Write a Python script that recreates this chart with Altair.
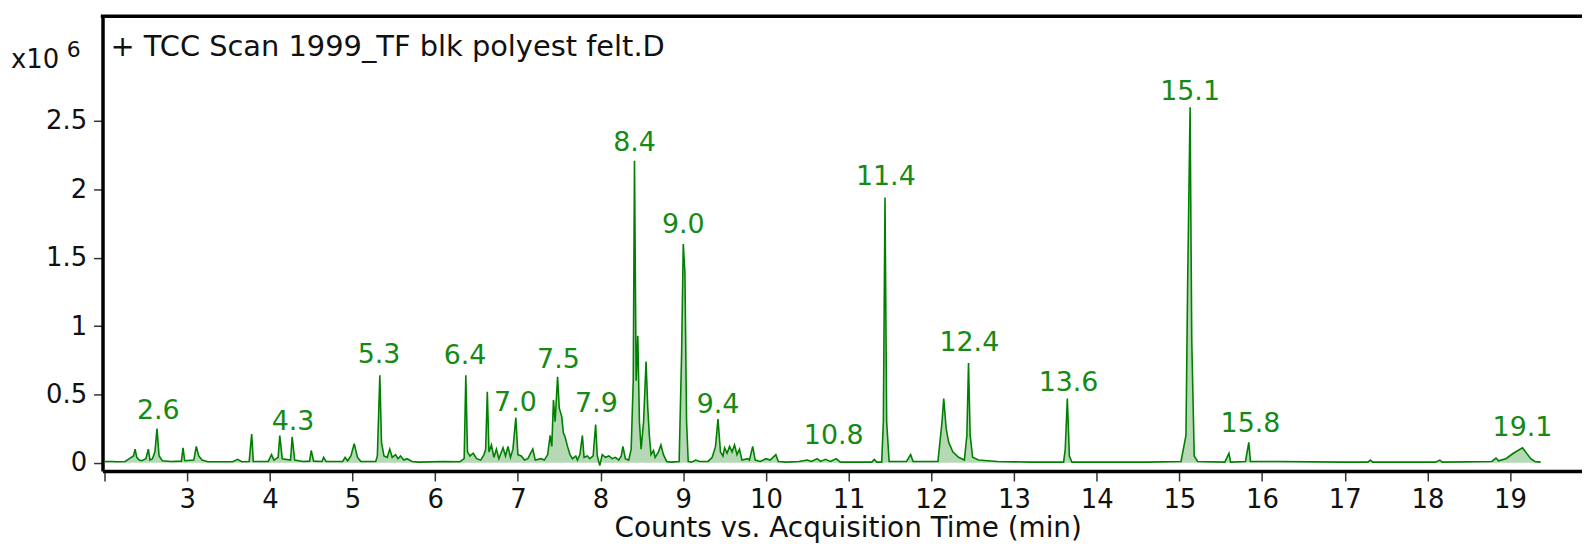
import altair as alt
import pandas as pd

# ---- Chromatogram trace (time in min, counts in millions) ----
times = [
    2.00, 2.10, 2.15, 2.25, 2.30, 2.35, 2.37, 2.39, 2.42, 2.45, 2.50, 2.53, 2.55, 2.58, 2.61, 2.635, 2.66, 2.70,
    2.80, 2.93, 2.95, 2.97, 3.08, 3.11, 3.14, 3.18, 3.25, 3.55, 3.61, 3.66, 3.75, 3.78, 3.80, 3.98, 4.02, 4.05,
    4.10, 4.12, 4.15, 4.25, 4.27, 4.30, 4.40, 4.48, 4.50, 4.53, 4.63, 4.65, 4.68, 4.88, 4.91, 4.94, 4.98, 5.02,
    5.06, 5.10, 5.28, 5.30, 5.33, 5.35, 5.38, 5.42, 5.45, 5.48, 5.52, 5.55, 5.58, 5.62, 5.66, 5.72, 5.80, 6.10,
    6.30, 6.35, 6.37, 6.39, 6.42, 6.46, 6.50, 6.55, 6.59, 6.61, 6.63, 6.65, 6.68, 6.71, 6.74, 6.77, 6.82, 6.85,
    6.88, 6.91, 6.94, 6.975, 7.00, 7.04, 7.08, 7.12, 7.18, 7.21, 7.28, 7.32, 7.36, 7.39, 7.41, 7.43, 7.45, 7.48,
    7.50, 7.53, 7.55, 7.57, 7.60, 7.63, 7.66, 7.70, 7.72, 7.75, 7.78, 7.80, 7.84, 7.87, 7.91, 7.94, 7.96, 7.99,
    8.02, 8.06, 8.10, 8.14, 8.18, 8.22, 8.25, 8.27, 8.30, 8.34, 8.37, 8.395, 8.41, 8.43, 8.45, 8.47, 8.49, 8.52,
    8.55, 8.57, 8.59, 8.61, 8.64, 8.66, 8.70, 8.73, 8.76, 8.80, 8.85, 8.95, 8.98, 9.00, 9.02, 9.04, 9.06, 9.10,
    9.15, 9.20, 9.30, 9.35, 9.39, 9.42, 9.45, 9.48, 9.50, 9.53, 9.56, 9.59, 9.62, 9.65, 9.68, 9.71, 9.78, 9.80,
    9.84, 9.87, 9.93, 10.00, 10.05, 10.12, 10.15, 10.25, 10.40, 10.50, 10.55, 10.62, 10.66, 10.72, 10.78, 10.85,
    10.90, 11.20, 11.28, 11.31, 11.34, 11.40, 11.42, 11.44, 11.46, 11.49, 11.70, 11.75, 11.78, 12.08, 12.13,
    12.15, 12.18, 12.21, 12.26, 12.33, 12.40, 12.43, 12.45, 12.47, 12.50, 12.57, 12.80, 13.20, 13.60, 13.62,
    13.645, 13.67, 13.70, 14.60, 15.02, 15.08, 15.10, 15.13, 15.15, 15.18, 15.22, 15.55, 15.60, 15.62, 15.80,
    15.84, 15.86, 16.20, 17.00, 17.28, 17.31, 17.34, 18.10, 18.15, 18.18, 18.78, 18.83, 18.86, 18.95, 19.04,
    19.15, 19.25, 19.30, 19.37,
]
counts = [
    0.01, 0.01, 0.008, 0.01, 0.03, 0.05, 0.10, 0.04, 0.02, 0.015, 0.03, 0.10, 0.02, 0.03, 0.08, 0.25, 0.05, 0.015,
    0.01, 0.012, 0.11, 0.015, 0.02, 0.12, 0.05, 0.02, 0.008, 0.008, 0.025, 0.008, 0.01, 0.21, 0.01, 0.01, 0.06, 0.02,
    0.04, 0.20, 0.03, 0.02, 0.19, 0.02, 0.01, 0.012, 0.09, 0.012, 0.01, 0.04, 0.01, 0.01, 0.04, 0.015, 0.05, 0.14,
    0.04, 0.01, 0.01, 0.05, 0.64, 0.15, 0.05, 0.04, 0.10, 0.04, 0.06, 0.03, 0.05, 0.02, 0.03, 0.01, 0.005, 0.01,
    0.008, 0.03, 0.64, 0.08, 0.05, 0.07, 0.03, 0.02, 0.06, 0.10, 0.52, 0.08, 0.13, 0.04, 0.10, 0.03, 0.11, 0.05,
    0.12, 0.04, 0.10, 0.33, 0.06, 0.05, 0.02, 0.03, 0.10, 0.02, 0.03, 0.02, 0.06, 0.20, 0.12, 0.46, 0.30, 0.63,
    0.40, 0.34, 0.22, 0.19, 0.12, 0.06, 0.03, 0.05, 0.02, 0.06, 0.20, 0.04, 0.05, 0.03, 0.05, 0.28, 0.05, -0.02,
    0.06, 0.04, 0.05, 0.03, 0.04, 0.02, 0.05, 0.12, 0.03, 0.02, 0.10, 0.60, 2.21, 0.60, 0.93, 0.30, 0.10, 0.30,
    0.74, 0.41, 0.20, 0.06, 0.09, 0.04, 0.08, 0.13, 0.06, 0.01, 0.005, 0.01, 0.80, 1.60, 1.39, 0.30, 0.01, 0.005,
    0.02, 0.01, 0.01, 0.04, 0.12, 0.32, 0.08, 0.05, 0.11, 0.07, 0.12, 0.08, 0.13, 0.06, 0.10, 0.02, 0.03, 0.02,
    0.12, 0.02, 0.01, 0.03, 0.02, 0.06, 0.01, 0.005, 0.01, 0.02, 0.01, 0.03, 0.01, 0.025, 0.01, 0.03,
    0.005, 0.005, 0.005, 0.025, 0.005, 0.005, 0.30, 1.94, 0.30, 0.01, 0.01, 0.06, 0.01, 0.01, 0.30,
    0.47, 0.25, 0.15, 0.08, 0.04, 0.02, 0.20, 0.73, 0.20, 0.04, 0.02, 0.01, 0.005, 0.005, 0.10,
    0.47, 0.05, 0.005, 0.005, 0.01, 0.20, 1.30, 2.60, 0.90, 0.05, 0.01, 0.005, 0.07, 0.005, 0.01,
    0.15, 0.01, 0.01, 0.005, 0.005, 0.02, 0.005, 0.005, 0.02, 0.005, 0.01, 0.035, 0.015, 0.03, 0.07,
    0.11, 0.03, 0.01, 0.005,
]

# ---- Peak labels ----
label_text = ["2.6", "4.3", "5.3", "6.4", "7.0", "7.5", "7.9", "8.4", "9.0", "9.4", "10.8",
              "11.4", "12.4", "13.6", "15.1", "15.8", "19.1"]
label_t = [2.65, 4.28, 5.32, 6.36, 6.97, 7.49, 7.95, 8.41, 9.00, 9.42, 10.82,
           11.45, 12.46, 13.66, 15.13, 15.86, 19.15]
label_v = [0.38, 0.30, 0.79, 0.78, 0.44, 0.75, 0.43, 2.34, 1.74, 0.42, 0.195,
           2.09, 0.875, 0.58, 2.71, 0.28, 0.256]

x_ticks = list(range(2, 21))
y_ticks = [0, 0.5, 1, 1.5, 2, 2.5]

header_text = ["+ TCC Scan 1999_TF blk polyest felt.D"]
ymult_text = ["x10"]
yexp_text = ["6"]

trace = pd.DataFrame({"t": times, "v": counts})
labels = pd.DataFrame({"t": label_t, "v": label_v, "txt": label_text})
one_header = pd.DataFrame({"txt": header_text})
one_mult = pd.DataFrame({"txt": ymult_text})
one_exp = pd.DataFrame({"txt": yexp_text})

W, H = 1487, 457
FONT = "DejaVu Sans"
FS = 26
LINE_GREEN = "#008000"
LABEL_GREEN = "#158a15"

xs = alt.Scale(domain=[1.976, 19.870], nice=False, zero=False)
ys = alt.Scale(domain=[-0.06, 3.266], nice=False, zero=False)

x_enc = alt.X("t:Q", scale=xs, axis=alt.Axis(
    values=x_ticks, format="d", labelExpr="datum.value == 2 ? '' : datum.label",
    title="Counts vs. Acquisition Time (min)", grid=False,
    domainColor="black", domainWidth=3.5, tickColor="#333", tickWidth=1.5, tickSize=10,
    labelPadding=6, labelFontSize=FS, labelFont=FONT, labelColor="#111",
    titleFont=FONT, titleFontSize=28, titleFontWeight="normal", titleColor="#111",
    titleBaseline="alphabetic", titleY=66, titleX=749, titleAnchor="middle"))
y_enc = alt.Y("v:Q", scale=ys, axis=alt.Axis(
    values=y_ticks, format="~g", title=None, grid=False,
    domainColor="black", domainWidth=3.5, tickColor="#333", tickWidth=1.5, tickSize=9,
    labelPadding=7, labelFontSize=FS, labelFont=FONT, labelColor="#111"))

base = alt.Chart(trace)
area = base.mark_area(color="#5aa85a", opacity=0.45, clip=True).encode(
    x=x_enc, y=y_enc, y2=alt.datum(0))
line = base.mark_line(color=LINE_GREEN, strokeWidth=1.6, clip=True).encode(x="t:Q", y="v:Q")

peak_labels = alt.Chart(labels).mark_text(
    font=FONT, fontSize=27, color=LABEL_GREEN, align="center", baseline="middle"
).encode(x="t:Q", y="v:Q", text="txt:N")

top_rule = alt.Chart(one_header).mark_rule(color="black", strokeWidth=3.5).encode(
    x=alt.value(-1.75), x2=alt.value(W), y=alt.value(0))

header = alt.Chart(one_header).mark_text(
    font=FONT, fontSize=29, color="#111", align="left", baseline="middle"
).encode(x=alt.value(8), y=alt.value(31), text="txt:N")

ymult = alt.Chart(one_mult).mark_text(
    font=FONT, fontSize=FS, color="#111", align="left", baseline="middle"
).encode(x=alt.value(-92), y=alt.value(44), text="txt:N")
yexp = alt.Chart(one_exp).mark_text(
    font=FONT, fontSize=FS - 4, color="#111", align="left", baseline="middle"
).encode(x=alt.value(-36), y=alt.value(34), text="txt:N")

chart = alt.layer(area, line, peak_labels, top_rule, header, ymult, yexp).properties(
    width=W, height=H,
    autosize=alt.AutoSizeParams(type="none"),
    padding={"left": 95, "top": 7, "right": 0, "bottom": 72},
    background="white",
).configure_view(stroke=None)

chart.save("out.html", embed_options={"renderer": "svg", "actions": False})
